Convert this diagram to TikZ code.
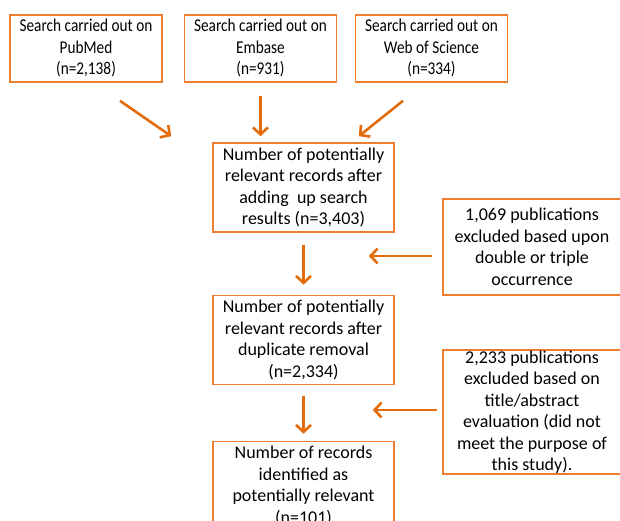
\documentclass[tikz,border=0pt]{standalone}
\usepackage{fontspec}
\setmainfont{Carlito}
\newfontfamily\narrowfont[FakeStretch=0.85]{Carlito}
\usetikzlibrary{arrows.meta,calc}
\definecolor{boxorange}{RGB}{237,125,49}
\definecolor{arroworange}{RGB}{228,108,10}

\begin{document}
\begin{tikzpicture}[x=1pt, y=-1pt,
every node/.style={draw=boxorange, line width=1.6pt, align=center, inner sep=0pt,
    font=\fontsize{18}{21.5}\selectfont},
src/.style={minimum width=152pt, minimum height=67pt,
    font=\narrowfont\fontsize{18}{21.5}\selectfont},
stage/.style={minimum width=181pt, minimum height=89pt},
excl/.style={minimum width=178pt},
arr/.style={draw=arroworange, line width=2.6pt, -{Straight Barb[length=7pt,width=15pt]}}
]
\useasboundingbox (0,0) rectangle (620,521);
\clip (0,0) rectangle (620,521);

\node[src] (pubmed) at (86,48.5) {Search carried out on\\PubMed\\(n=2,138)};
\node[src] (embase) at (260.5,48.5) {Search carried out on\\Embase\\(n=931)};
\node[src] (wos) at (431.5,48.5) {Search carried out on\\Web of Science\\(n=334)};

\node[stage] (added) at (303.5,187.5) {Number of potentially\\relevant records after\\adding~ up search\\results (n=3,403)};
\node[stage] (dedup) at (303.5,340) {Number of potentially\\relevant records after\\duplicate removal\\(n=2,334)};
\node[stage] (relevant) at (303.5,486) {Number of records\\identified as\\potentially relevant\\(n=101)};

\node[excl, minimum height=96pt] (double) at (532,247) {1,069 publications\\excluded based upon\\double or triple\\occurrence};
\node[excl, minimum height=124pt] (title) at (532,412) {2,233 publications\\excluded based on\\title/abstract\\evaluation (did not\\meet the purpose of\\this study).};

\draw[arr] ($(pubmed.south)+(34,18)$) -- ($(added.north west)+(-41,-6)$);
\draw[arr, shorten <=13pt, shorten >=6pt] (embase.south) -- (embase.south |- added.north);
\draw[arr] ($(wos.south)+(-28.5,18)$) -- ($(added.north east)+(-36,-6)$);

\foreach \a/\b/\s/\e in {added/dedup/12/10, dedup/relevant/11/7}
    \draw[arr, shorten <=\s pt, shorten >=\e pt] (\a.south) -- (\b.north);

\draw[arr] ($(double.west)+(-10,9)$) -- ($(double.west -| added.east)+(-26,9)$);
\draw[arr] ($(title.west)+(-5,-2)$) -- ($(title.west -| dedup.east)+(-22,-2)$);
%\draw[arr] (relevant.south) -- ++(0,30);
\end{tikzpicture}
\end{document}
